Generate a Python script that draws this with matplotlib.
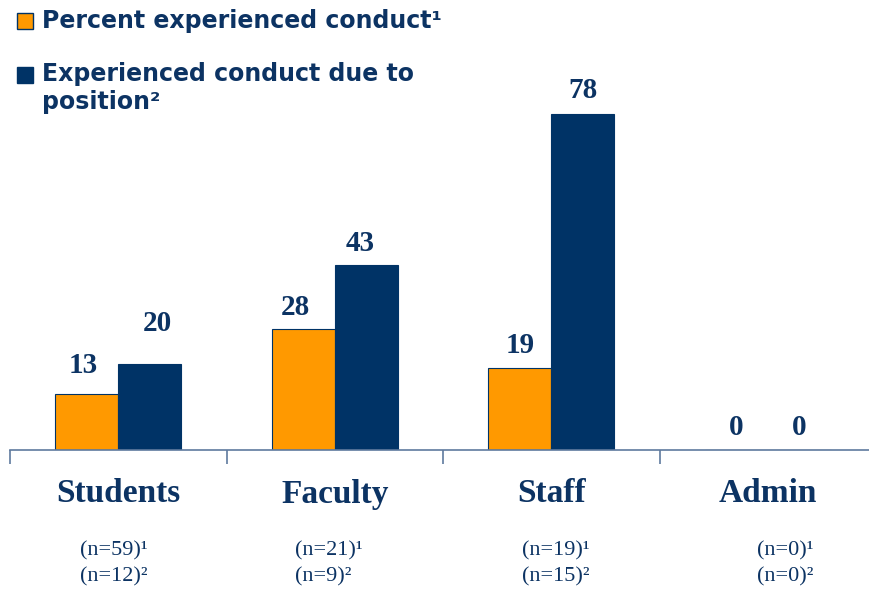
import numpy as np
import matplotlib.pyplot as plt
from matplotlib.patches import Rectangle

# data
groups = ['Students', 'Faculty', 'Staff', 'Admin']
pct_conduct = [13, 28, 19, 0]
pct_position = [20, 43, 78, 0]
n_conduct = ['(n=59)\u00b9', '(n=21)\u00b9', '(n=19)\u00b9', '(n=0)\u00b9']
n_position = ['(n=12)\u00b2', '(n=9)\u00b2', '(n=15)\u00b2', '(n=0)\u00b2']
legend_labels = ['Percent experienced conduct\u00b9',
                 'Experienced conduct due to\nposition\u00b2']

orange = '#FF9900'
navy = '#003366'
txt = '#0C3363'
axis_col = '#5F7A9E'

fig = plt.figure(figsize=(8.69, 5.90), dpi=100)
W, H = 869, 590
# axes: baseline at y=450 px, 4.31 px per percent
ax = fig.add_axes([10 / W, 1 - 450 / H, 866 / W, 431 / H])
ax.set_xlim(-0.5, 3.5)
ax.set_ylim(0, 100)

x = np.arange(len(groups))
bw = 0.29
ax.bar(x - bw / 2, pct_conduct, bw, color=orange, edgecolor=navy, linewidth=0.8)
ax.bar(x + bw / 2, pct_position, bw, color=navy, edgecolor=navy, linewidth=0.8)

# value labels, nudged (pixels) as in the original slide
nudge_c = [(-4, 21), (-8, 14), (0, 15), (0, 15)]
nudge_p = [(8, 33), (-6, 14), (0, 16), (0, 15)]
for xs, vals, nudges in [(x - bw / 2, pct_conduct, nudge_c),
                         (x + bw / 2, pct_position, nudge_p)]:
    for xi, v, (dx, dy) in zip(xs, vals, nudges):
        ax.annotate(str(v), (xi, v), xytext=(dx * 0.72, dy * 0.72),
                    textcoords='offset points', ha='center', va='baseline',
                    color=txt, fontsize=21, fontweight='bold',
                    family='Liberation Serif')

for s in ['top', 'right', 'left']:
    ax.spines[s].set_visible(False)
ax.spines['bottom'].set_color(axis_col)
ax.spines['bottom'].set_linewidth(1.2)
ax.set_yticks([])
ax.set_xticks(np.arange(-0.5, 4.0, 1.0))
ax.set_xticklabels([])
ax.tick_params(axis='x', direction='out', length=10, width=1.2, color=axis_col)

# category and n labels
n_left = [80, 295, 522, 757]
for xi, g, a, b, nl in zip(x, groups, n_conduct, n_position, n_left):
    px = (10 + (xi + 0.5) * 216.5) / W
    fig.text(px, 1 - 494 / H, g, ha='center', va='center', color=txt,
             fontsize=24, fontweight='bold', family='Liberation Serif')
    fig.text(nl / W, 1 - 551 / H, a, ha='left', va='center', color=txt,
             fontsize=16, family='Liberation Serif')
    fig.text(nl / W, 1 - 577 / H, b, ha='left', va='center', color=txt,
             fontsize=16, family='Liberation Serif')

# legend drawn by hand
fig.patches.append(Rectangle((17 / W, 1 - 29 / H), 16 / W, 16 / H,
                             transform=fig.transFigure, facecolor=orange,
                             edgecolor=navy, linewidth=1))
fig.patches.append(Rectangle((17 / W, 1 - 83 / H), 16 / W, 16 / H,
                             transform=fig.transFigure, facecolor=navy,
                             edgecolor=navy, linewidth=1))
fig.text(42 / W, 1 - 21 / H, legend_labels[0], ha='left', va='center',
         color=txt, fontsize=17, fontweight='bold')
fig.text(42 / W, 1 - 62 / H, legend_labels[1], ha='left', va='top',
         color=txt, fontsize=17, fontweight='bold', linespacing=1.2)

fig.savefig('out.png', dpi=100)
